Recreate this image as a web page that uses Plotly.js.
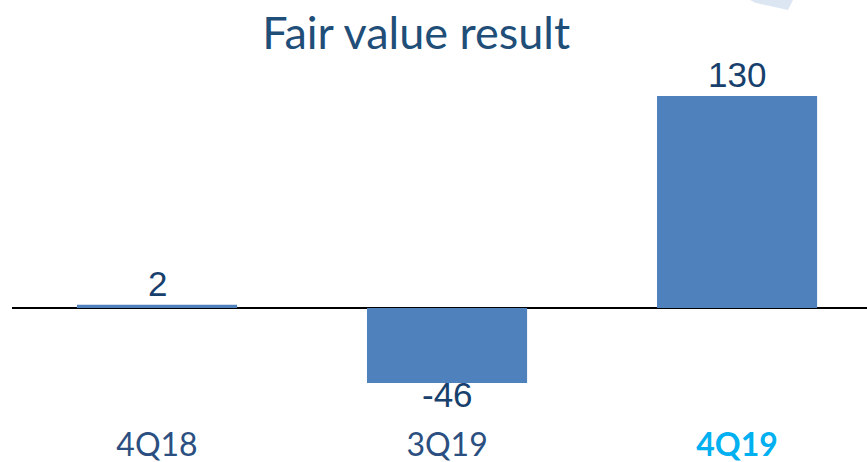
<!DOCTYPE html>
<html>
<head>
<meta charset="utf-8">
<script src="https://cdn.plot.ly/plotly-3.0.1.min.js"></script>
<style>html,body{margin:0;padding:0;background:#fff;}#chart{width:867px;height:462px;}</style>
</head>
<body>
<div id="chart"></div>
<script>
const categories = ["4Q18", "3Q19", "4Q19"];
const values = [2, -46, 130];
const valueLabels = ["2", "-46", "130"];
const tickLabels = ["4Q18", "3Q19", "<b><span style=\"color:#00B0F0\">4Q19</span></b>"];

const xs = categories.map((c, i) => i);

const trace = {
  type: "bar",
  x: xs,
  y: values,
  marker: {color: "#4F81BD", line: {width: 0}},
  width: 0.552,
  hoverinfo: "skip"
};

const labelAnnotations = values.map((v, i) => ({
  x: xs[i],
  y: v,
  xref: "x",
  yref: "y",
  text: valueLabels[i],
  showarrow: false,
  yanchor: v >= 0 ? "bottom" : "top",
  yshift: v >= 0 ? 0 : 10,
  font: {family: "Liberation Sans, Arial, sans-serif", size: 35, color: "#17406D"}
}));

const layout = {
  width: 867,
  height: 462,
  margin: {l: 12, r: 0, t: 60, b: 42},
  paper_bgcolor: "#ffffff",
  plot_bgcolor: "#ffffff",
  showlegend: false,
  title: {
    text: "Fair value result",
    font: {family: "Lato, sans-serif", size: 45, color: "#1F4E79"},
    x: 0.48, xref: "container", xanchor: "center",
    y: 0.929, yref: "container", yanchor: "middle"
  },
  xaxis: {
    range: [-0.5, 2.448],
    tickmode: "array",
    tickvals: xs,
    ticktext: tickLabels,
    showgrid: false,
    zeroline: false,
    showline: false,
    ticks: "",
    ticklabelstandoff: 3,
    tickfont: {family: "Lato, sans-serif", size: 32, color: "#2B4F80"},
    fixedrange: true
  },
  yaxis: {
    range: [-68.7, 152.1],
    showgrid: false,
    showticklabels: false,
    ticks: "",
    zeroline: true,
    zerolinecolor: "#000000",
    zerolinewidth: 2,
    showline: false,
    fixedrange: true
  },
  annotations: labelAnnotations,
  shapes: [{
    type: "path",
    xref: "paper", yref: "paper",
    path: "M " + ((750-12)/855) + " " + (1+60/360) + " L " + ((756-12)/855) + " " + (1+(60-3)/360) + " L " + ((788-12)/855) + " " + (1+(60-10)/360) + " L " + ((793-12)/855) + " " + (1+60/360) + " Z",
    fillcolor: "#DCE6F2",
    line: {width: 0},
    layer: "below"
  }]
};

Plotly.newPlot("chart", [trace], layout, {displayModeBar: false, staticPlot: true});
</script>
</body>
</html>
